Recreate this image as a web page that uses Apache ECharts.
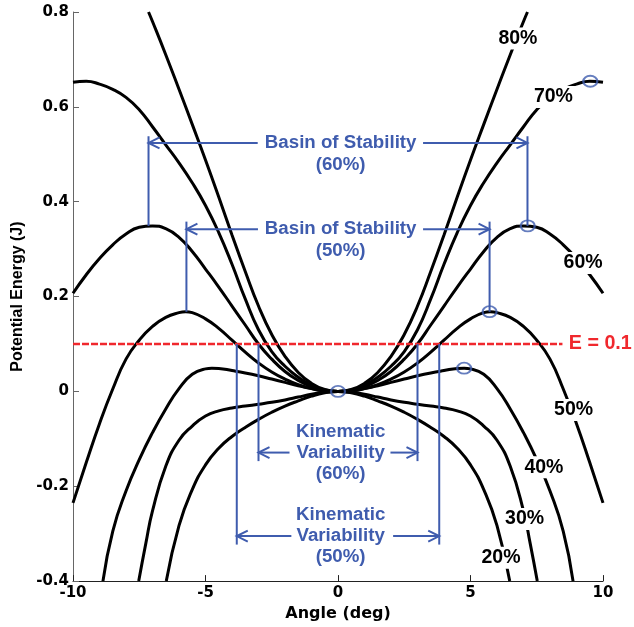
<!DOCTYPE html>
<html>
<head>
<meta charset="utf-8">
<script src="https://cdn.jsdelivr.net/npm/echarts@6/dist/echarts.min.js"></script>
<style>
html,body{margin:0;padding:0;background:#fff;}
#chart{width:634px;height:627px;}
</style>
</head>
<body>
<div id="chart"></div>
<script>
// ---------- data (right half of each symmetric curve: [angle deg, energy J]) ----------
const curveNames = ['80%', '70%', '60%', '50%', '40%', '30%', '20%'];
const e80 = [[0,0],[0.5,0.004],[1,0.017],[1.5,0.04],[2,0.074],[2.5,0.12],[3,0.18],[3.5,0.253],[4,0.33],[4.5,0.41],[5,0.488],[5.5,0.563],[6,0.637],[6.5,0.71],[7,0.78],[7.15,0.8]];
const e70 = [[0,0],[0.5,0.003],[1,0.013],[1.5,0.03],[2,0.053],[2.5,0.084],[3,0.13],[3.5,0.195],[4,0.268],[4.5,0.335],[5,0.392],[5.5,0.44],[6,0.482],[6.5,0.52],[7,0.558],[7.5,0.594],[8,0.62],[8.5,0.637],[9,0.648],[9.5,0.654],[10,0.652]];
const e60 = [[0,0],[0.5,0.002],[1,0.01],[1.5,0.023],[2,0.042],[2.5,0.068],[3,0.1],[3.5,0.14],[4,0.18],[4.5,0.22],[5,0.258],[5.5,0.295],[6,0.325],[6.5,0.343],[7,0.349],[7.5,0.346],[8,0.332],[8.5,0.309],[9,0.28],[9.5,0.246],[10,0.207]];
const e50 = [[0,0],[0.5,0.001],[1,0.006],[1.5,0.014],[2,0.026],[2.5,0.041],[3,0.06],[3.5,0.083],[4,0.108],[4.5,0.133],[5,0.153],[5.5,0.166],[5.75,0.168],[6,0.166],[6.5,0.156],[7,0.137],[7.5,0.108],[8,0.068],[8.5,0.005],[9,-0.068],[9.5,-0.15],[10,-0.235]];
const e40 = [[0,0],[0.5,0.0015],[1,0.006],[1.5,0.012],[2,0.019],[2.5,0.026],[3,0.033],[3.5,0.039],[4,0.044],[4.5,0.0485],[4.76,0.049],[5,0.0475],[5.5,0.036],[6,0.006],[6.5,-0.037],[7,-0.087],[7.5,-0.144],[8,-0.21],[8.5,-0.295],[8.87,-0.4]];
const e30 = [[0,0],[0.5,-0.002],[1,-0.006],[1.5,-0.012],[2,-0.018],[2.5,-0.023],[3,-0.027],[3.5,-0.031],[4,-0.035],[4.5,-0.041],[5,-0.052],[5.5,-0.073],[6,-0.103],[6.5,-0.158],[7,-0.252],[7.25,-0.32],[7.52,-0.4]];
const e20 = [[0,0],[0.5,-0.003],[1,-0.01],[1.5,-0.02],[2,-0.031],[2.5,-0.044],[3,-0.059],[3.5,-0.076],[4,-0.095],[4.5,-0.12],[5,-0.155],[5.5,-0.207],[6,-0.283],[6.48,-0.4]];
const curveData = [e80, e70, e60, e50, e40, e30, e20];

// peaks marked with circles
const peakAngle = [0, 4.76, 5.72, 7.16, 9.52];
const peakEnergy = [0, 0.049, 0.168, 0.349, 0.654];

// energy level
const E_LEVEL = 0.1;
const energyLabel = 'E = 0.1';

// basins of stability (half widths = peak angles) and kinematic variability (crossings of E = 0.1)
const basinNames = ['(60%)', '(50%)'];
const basinHalfWidth = [7.15, 5.72];
const basinPeakE = [0.349, 0.168];
const kinNames = ['(60%)', '(50%)'];
const kinHalfWidth = [3.0, 3.82];

// curve label anchors [angle, energy]
const curveLabelAngle = [6.79, 8.13, 9.25, 8.89, 7.77, 7.04, 6.15];
const curveLabelE = [0.744, 0.621, 0.271, -0.039, -0.16, -0.269, -0.351];

// axis ticks
const xTicks = [-10, -5, 0, 5, 10];
const yTicks = [-0.4, -0.2, 0, 0.2, 0.4, 0.6, 0.8];

// ---------- layout / style ----------
const BLUE = '#3f5cae';
const RED = '#f0282d';
const ANN_FONT = 'bold 18.7px "Liberation Sans", Arial, sans-serif';
const basinLayout = [
  {top: 0.538, arrow: 0.524, gapL: -3.03, gapR: 3.21},
  {top: 0.358, arrow: 0.342, gapL: -3.02, gapR: 3.21}
];
const kinLayout = [
  {bottom: -0.147, arrow: -0.129, gapL: -1.83, gapR: 1.98},
  {bottom: -0.323, arrow: -0.305, gapL: -1.76, gapR: 2.08}
];
const textCenterAngle = 0.1;
const redLineEnd = 8.47;
const energyLabelAngle = 8.71;

function mirror(half) {
  const left = half.slice(1).map(p => [-p[0], p[1]]).reverse();
  return left.concat(half);
}

const chart = echarts.init(document.getElementById('chart'));

function chevron(tip, dir) {
  return {
    type: 'polyline',
    shape: {points: [[tip[0] - dir * 11, tip[1] - 5.5], [tip[0], tip[1]], [tip[0] - dir * 11, tip[1] + 5.5]]},
    style: {stroke: BLUE, lineWidth: 2, fill: null}
  };
}
function seg(a, b) {
  return {type: 'line', shape: {x1: a[0], y1: a[1], x2: b[0], y2: b[1]}, style: {stroke: BLUE, lineWidth: 2}};
}

const series = [];
curveData.forEach((half, i) => {
  series.push({
    name: curveNames[i],
    type: 'line',
    data: mirror(half),
    smooth: 0.5,
    showSymbol: false,
    symbol: 'none',
    lineStyle: {color: '#000', width: 3},
    clip: true,
    z: 2,
    silent: true
  });
});

// red energy line
series.push({
  type: 'line',
  data: [[xTicks[0], E_LEVEL], [redLineEnd, E_LEVEL]],
  symbol: 'none',
  lineStyle: {color: RED, width: 2.6, type: [7, 2]},
  z: 3,
  silent: true
});

// brackets (basins + kinematic variability)
const bracketItems = basinHalfWidth.map((w, i) => ['basin', i]).concat(kinHalfWidth.map((w, i) => ['kin', i]));
series.push({
  type: 'custom',
  z: 4,
  silent: true,
  data: bracketItems.map((d, i) => [i, 0]),
  renderItem: function (params, api) {
    const [kind, i] = bracketItems[params.dataIndex];
    const children = [];
    if (kind === 'basin') {
      const w = basinHalfWidth[i], L = basinLayout[i];
      const pk = basinPeakE[i];
      children.push(seg(api.coord([-w, pk]), api.coord([-w, L.top])));
      children.push(seg(api.coord([w, pk]), api.coord([w, L.top])));
      const tipL = api.coord([-w, L.arrow]), tipR = api.coord([w, L.arrow]);
      children.push(seg(api.coord([L.gapL, L.arrow]), tipL));
      children.push(seg(api.coord([L.gapR, L.arrow]), tipR));
      children.push(chevron(tipL, -1));
      children.push(chevron(tipR, 1));
      const c = api.coord([textCenterAngle, L.arrow]);
      children.push({
        type: 'text',
        style: {text: 'Basin of Stability\n' + basinNames[i], x: c[0], y: c[1] - 11,
          font: ANN_FONT, fill: BLUE, align: 'center', verticalAlign: 'top', lineHeight: 22}
      });
    } else {
      const w = kinHalfWidth[i], L = kinLayout[i];
      children.push(seg(api.coord([-w, E_LEVEL]), api.coord([-w, L.bottom])));
      children.push(seg(api.coord([w, E_LEVEL]), api.coord([w, L.bottom])));
      const tipL = api.coord([-w, L.arrow]), tipR = api.coord([w, L.arrow]);
      children.push(seg(api.coord([L.gapL, L.arrow]), tipL));
      children.push(seg(api.coord([L.gapR, L.arrow]), tipR));
      children.push(chevron(tipL, -1));
      children.push(chevron(tipR, 1));
      const c = api.coord([textCenterAngle, L.arrow]);
      children.push({
        type: 'text',
        style: {text: 'Kinematic\nVariability\n' + kinNames[i], x: c[0], y: c[1] - 31.5,
          font: ANN_FONT, fill: BLUE, align: 'center', verticalAlign: 'top', lineHeight: 21}
      });
    }
    return {type: 'group', children: children};
  }
});

// peak circles
series.push({
  type: 'scatter',
  data: peakAngle.map((a, i) => [a, peakEnergy[i]]),
  symbol: 'circle',
  symbolSize: [14, 11],
  itemStyle: {color: 'rgba(0,0,0,0)', borderColor: BLUE, borderWidth: 2},
  z: 5,
  silent: true
});

// curve labels and energy label
series.push({
  type: 'custom',
  z: 6,
  silent: true,
  data: curveNames.map((n, i) => [curveLabelAngle[i], curveLabelE[i]]).concat([[energyLabelAngle, E_LEVEL]]),
  renderItem: function (params, api) {
    const idx = params.dataIndex;
    const p = api.coord([api.value(0), api.value(1)]);
    if (idx < curveNames.length) {
      return {
        type: 'text',
        style: {text: curveNames[idx], x: p[0], y: p[1], font: 'bold 19.5px "Liberation Sans", Arial, sans-serif',
          fill: '#000', align: 'center', verticalAlign: 'middle', backgroundColor: '#fff', padding: [1, 2]}
      };
    }
    return {
      type: 'text',
      style: {text: energyLabel, x: p[0], y: p[1], font: 'bold 19.7px "Liberation Sans", Arial, sans-serif',
        fill: RED, align: 'left', verticalAlign: 'middle'}
    };
  }
});

const tickFont = {fontFamily: 'DejaVu Sans', fontWeight: 'bold', fontSize: 15, color: '#000'};

chart.setOption({
  animation: false,
  backgroundColor: '#fff',
  grid: {left: 73, right: 31, top: 12, bottom: 45, containLabel: false},
  xAxis: {
    type: 'value',
    min: xTicks[0], max: xTicks[xTicks.length - 1], interval: xTicks[1] - xTicks[0],
    name: 'Angle (deg)', nameLocation: 'middle', nameGap: 22,
    nameTextStyle: {fontFamily: 'DejaVu Sans', fontWeight: 'bold', fontSize: 16, color: '#000'},
    axisLine: {show: true, onZero: false, lineStyle: {color: '#222', width: 1}},
    axisTick: {show: true, inside: true, length: 6, lineStyle: {color: '#222'}},
    axisLabel: Object.assign({margin: 5}, tickFont),
    splitLine: {show: false}
  },
  yAxis: {
    type: 'value',
    min: yTicks[0], max: yTicks[yTicks.length - 1], interval: +(yTicks[1] - yTicks[0]).toFixed(4),
    name: 'Potential Energy (J)', nameLocation: 'middle', nameGap: 45,
    nameTextStyle: {fontFamily: 'Liberation Sans', fontWeight: 'bold', fontSize: 16, color: '#000'},
    axisLine: {show: true, onZero: false, lineStyle: {color: '#666', width: 1}},
    axisTick: {show: true, inside: true, length: 6, lineStyle: {color: '#666'}},
    axisLabel: Object.assign({margin: 4, formatter: v => String(+v.toFixed(2))}, tickFont),
    splitLine: {show: false}
  },
  series: series
});
</script>
</body>
</html>
